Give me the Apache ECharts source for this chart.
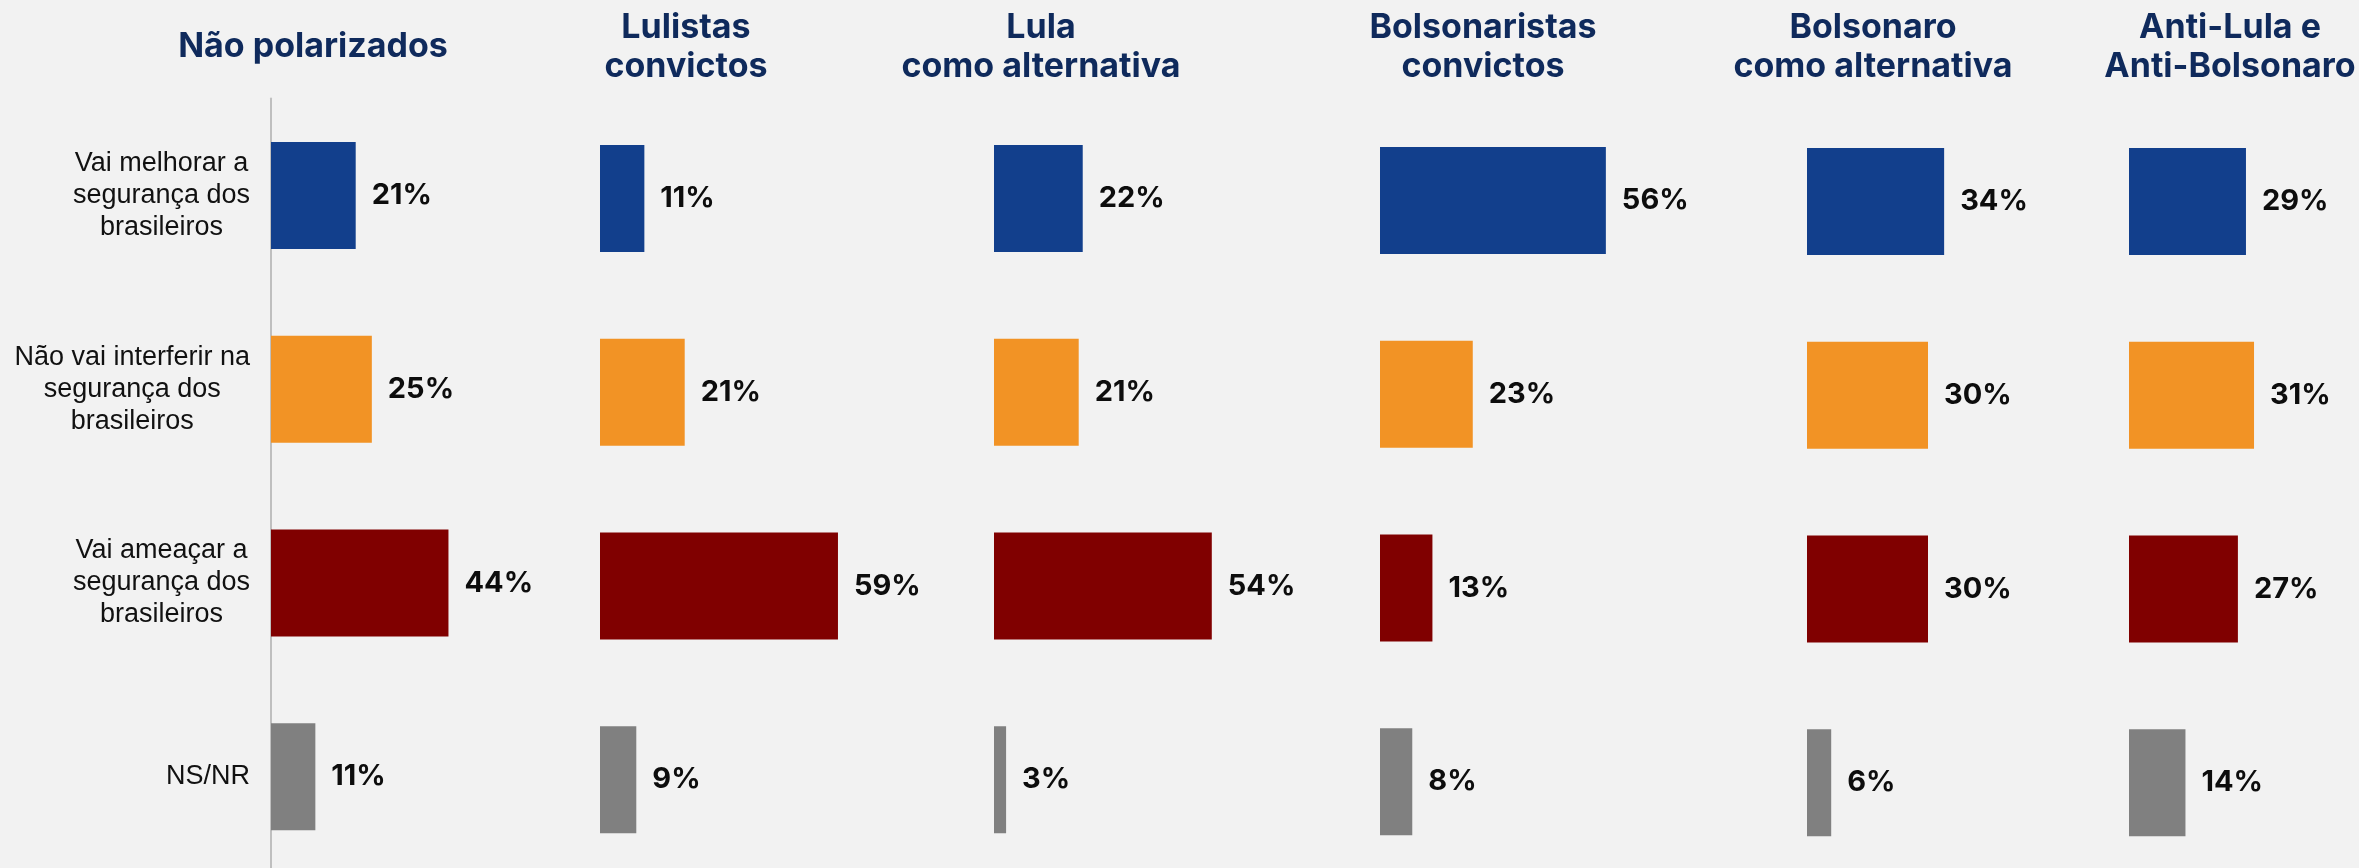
<!DOCTYPE html>
<html>
<head>
<meta charset="utf-8">
<script src="https://cdn.jsdelivr.net/npm/echarts@6/dist/echarts.min.js"></script>
<style>
  html, body { margin: 0; padding: 0; background: #f2f2f2; }
  #chart { width: 2359px; height: 868px; }
</style>
</head>
<body>
<div id="chart"></div>
<script>
// Answer options (rows) and voter groups (panels)
const categories = [
  'Vai melhorar a\nsegurança dos\nbrasileiros',
  'Não vai interferir na\nsegurança dos\nbrasileiros',
  'Vai ameaçar a\nsegurança dos\nbrasileiros',
  'NS/NR'
];
const groups = [
  'Não polarizados',
  'Lulistas\nconvictos',
  'Lula\ncomo alternativa',
  'Bolsonaristas\nconvictos',
  'Bolsonaro\ncomo alternativa',
  'Anti-Lula e\nAnti-Bolsonaro'
];

// Percentages per group, in the order of `categories`
const naoPolarizados         = [21, 25, 44, 11];
const lulistasConvictos      = [11, 21, 59, 9];
const lulaAlternativa        = [22, 21, 54, 3];
const bolsonaristasConvictos = [56, 23, 13, 8];
const bolsonaroAlternativa   = [34, 30, 30, 6];
const antiLulaAntiBolsonaro  = [29, 31, 27, 14];

const groupValues = [
  naoPolarizados, lulistasConvictos, lulaAlternativa,
  bolsonaristasConvictos, bolsonaroAlternativa, antiLulaAntiBolsonaro
];

// One colour per answer option
const rowColors = ['#123f8c', '#f29325', '#800000', '#808080'];

// Panel layout (the panels run past the bottom edge of the canvas)
const panelLeft   = [271, 600, 994, 1380, 1807, 2129];
const panelTop    = [98.6, 101.6, 101.6, 103.6, 104.6, 104.6];
const titleCenter = [313, 686, 1041, 1483, 1873, 2230];
const panelHeight = 775;
const axisMax = 60;
const panelWidth = 242;   // 60 % of scale

const chart = echarts.init(document.getElementById('chart'), null, { renderer: 'canvas' });

const grid = [], xAxis = [], yAxis = [], series = [], graphic = [];

groups.forEach((name, i) => {
  grid.push({
    left: panelLeft[i], top: panelTop[i], width: panelWidth, height: panelHeight,
    containLabel: false, outerBoundsMode: 'none'
  });
  xAxis.push({
    gridIndex: i, type: 'value', min: 0, max: axisMax, show: false
  });
  yAxis.push({
    gridIndex: i, type: 'category', inverse: true, data: categories,
    axisLine: { show: i === 0, lineStyle: { color: '#bfbfbf', width: 2 } },
    axisTick: { show: false },
    axisLabel: {
      show: i === 0,
      margin: 21,
      align: 'right',
      formatter: v => v.split('\n').map(s => '{c|' + s + '}').join('\n'),
      rich: {
        c: {
          align: 'center',
          fontFamily: '"Liberation Sans", Arial, sans-serif',
          fontSize: 27,
          lineHeight: 32,
          color: '#111111'
        }
      }
    },
    splitLine: { show: false }
  });
  series.push({
    type: 'bar',
    name: name,
    xAxisIndex: i, yAxisIndex: i,
    data: groupValues[i],
    barWidth: 107,
    itemStyle: { color: p => rowColors[p.dataIndex] },
    label: {
      show: true,
      position: 'right',
      distance: 16,
      formatter: '{c}%',
      fontFamily: 'Inter, "DejaVu Sans", sans-serif',
      fontWeight: 700,
      fontSize: 29,
      color: '#0d0d0d'
    },
    silent: true,
    animation: false
  });
  graphic.push({
    type: 'text',
    x: titleCenter[i], y: 47,
    style: {
      text: name,
      align: 'center',
      verticalAlign: 'middle',
      fontFamily: 'Inter, "DejaVu Sans", sans-serif',
      fontWeight: 700,
      fontSize: 34,
      lineHeight: 39,
      fill: '#0f2a5c'
    }
  });
});

chart.setOption({
  backgroundColor: '#f2f2f2',
  animation: false,
  grid, xAxis, yAxis, series, graphic
});
</script>
</body>
</html>
